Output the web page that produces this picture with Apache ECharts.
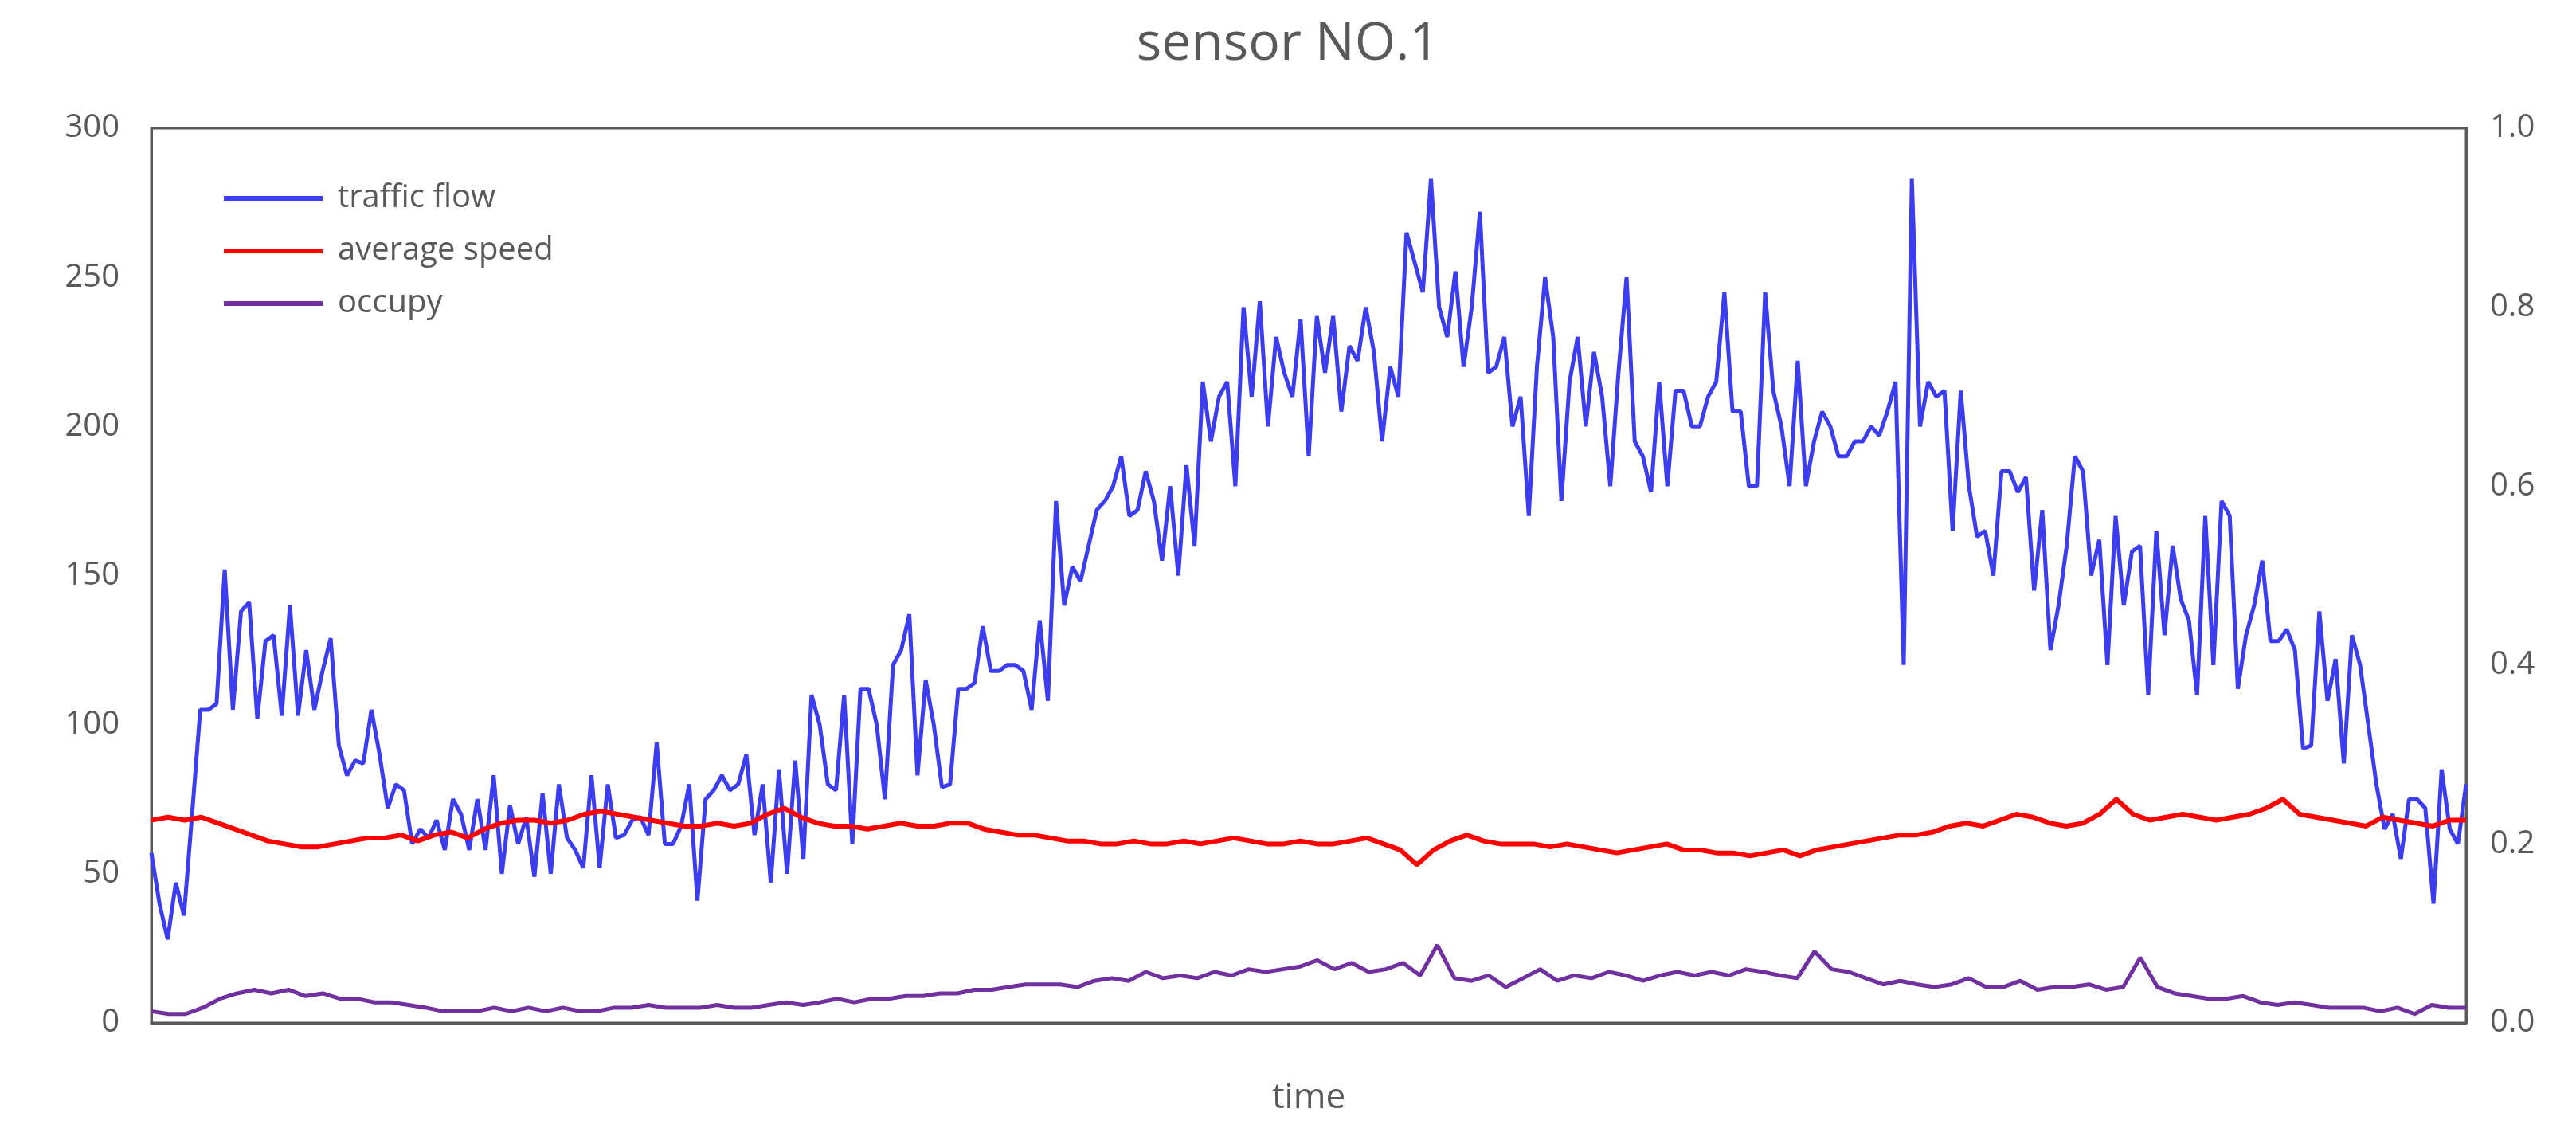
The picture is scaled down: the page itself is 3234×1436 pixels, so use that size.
<!DOCTYPE html>
<html><head><meta charset="utf-8">
<script src="https://cdn.jsdelivr.net/npm/echarts@6/dist/echarts.min.js"></script>
<style>html,body{margin:0;padding:0;background:#fff}#c{width:3234px;height:1436px}</style>
</head><body><div id="c"></div>
<script>
const leftTicks = [0, 50, 100, 150, 200, 250, 300];
const rightTicks = [0.0, 0.2, 0.4, 0.6, 0.8, 1.0];
const trafficFlow = [57,40,28,47,36,70,105,105,107,152,105,138,141,102,128,130,103,140,103,125,105,118,129,93,83,88,87,105,90,72,80,78,60,65,62,68,58,75,70,58,75,58,83,50,73,60,69,49,77,50,80,62,58,52,83,52,80,62,63,68,69,63,94,60,60,66,80,41,75,78,83,78,
80,90,63,80,47,85,50,88,55,110,100,80,78,110,60,112,112,100,75,120,125,137,83,115,100,79,80,112,112,114,133,118,118,120,120,118,105,135,108,175,140,153,148,160,172,175,180,190,170,172,185,175,155,180,150,187,160,215,195,210,215,180,
240,210,242,200,230,218,210,236,190,237,218,237,205,227,222,240,225,195,220,210,265,255,245,283,240,230,252,220,240,272,218,220,230,200,210,170,220,250,230,175,215,230,200,225,210,180,218,250,195,190,178,215,180,212,212,200,200,210,215,245,205,205,180,180,245,212,200,180,222,180,195,205,200,190,190,195,195,200,197,205,215,120,283,200,215,210,212,165,212,180,163,165,150,185,185,178,183,145,172,125,140,160,190,185,150,162,120,170,140,158,160,110,165,130,160,142,135,110,170,120,175,170,112,130,140,155,128,128,132,125,92,93,138,108,122,87,130,120,100,80,65,70,55,75,75,72,40,85,65,60,80];
const averageSpeed = [68,69,68,69,67,65,63,61,60,59,59,60,61,62,62,63,61,63,64,62,65,67,68,68,67,68,70,71,70,69,68,67,66,66,67,66,67,70,72,69,67,66,66,65,66,67,66,66,67,67,65,64,63,63,62,61,61,60,60,61,60,60,61,60,61,62,61,60,60,61,60,60,61,62,60,58,53,58,61,63,61,60,60,60,59,60,59,58,57,58,59,60,58,58,57,57,56,57,58,56,
58,59,60,61,62,63,63,64,66,67,66,68,70,69,67,66,67,70,75,70,68,69,70,69,68,69,70,72,75,70,69,68,67,66,69,68,67,66,68,68];
const occupy = [0.013,0.010,0.010,0.017,0.027,0.033,0.037,0.033,0.037,0.030,0.033,0.027,0.027,0.023,0.023,0.020,0.017,0.013,0.013,0.013,0.017,0.013,0.017,0.013,0.017,0.013,0.013,0.017,0.017,0.020,0.017,0.017,0.017,0.020,0.017,0.017,0.020,0.023,0.020,0.023,0.027,0.023,0.027,0.027,0.030,0.030,0.033,0.033,0.037,0.037,0.040,0.043,0.043,0.043,0.040,0.047,0.050,0.047,0.057,0.050,0.053,0.050,0.057,0.053,0.060,0.057,0.060,0.063,0.070,0.060,0.067,0.057,0.060,0.067,0.053,0.087,0.050,0.047,0.053,0.040,0.050,0.060,0.047,0.053,0.050,0.057,0.053,0.047,0.053,0.057,0.053,0.057,0.053,0.060,0.057,0.053,0.050,0.080,0.060,0.057,0.050,0.043,0.047,0.043,0.040,0.043,0.050,0.040,0.040,0.047,0.037,0.040,0.040,0.043,0.037,0.040,0.073,0.040,0.033,0.030,0.027,0.027,0.030,0.023,0.020,0.023,0.020,0.017,0.017,0.017,0.013,0.017,0.010,0.020,0.017,0.017];

const toXY = arr => arr.map((v, i) => [i / (arr.length - 1), v]);
const txt = '#595959', font = 'Open Sans';
const chart = echarts.init(document.getElementById('c'));
chart.setOption({
  animation: false,
  title: { text: 'sensor NO.1', left: 'center', top: 18, textStyle: { fontSize: 66, fontWeight: 'normal', color: txt, fontFamily: font } },
  legend: {
    orient: 'vertical', left: 276, top: 222, itemWidth: 124, itemHeight: 6, itemGap: 22, icon: 'rect',
    textStyle: { fontSize: 40, lineHeight: 44, color: txt, fontFamily: font, padding: [0, 0, 0, 14] },
    data: ['traffic flow', 'average speed', 'occupy']
  },
  grid: { left: 190, right: 138, top: 161, bottom: 152, show: true, borderColor: '#595959', borderWidth: 3 },
  xAxis: {
    type: 'value', min: 0, max: 1, name: 'time', nameLocation: 'middle', nameGap: 72,
    nameTextStyle: { fontSize: 44, color: txt, fontFamily: font },
    axisLabel: { show: false }, axisTick: { show: false }, splitLine: { show: false },
    axisLine: { lineStyle: { color: '#595959', width: 3 } }
  },
  yAxis: [
    { type: 'value', min: 0, max: 300, interval: 50, splitLine: { show: false }, axisTick: { show: false },
      axisLine: { show: true, lineStyle: { color: '#595959', width: 3 } },
      axisLabel: { fontSize: 40, color: txt, fontFamily: font, margin: 40 } },
    { type: 'value', min: 0, max: 1, interval: 0.2, splitLine: { show: false }, axisTick: { show: false },
      axisLine: { show: true, lineStyle: { color: '#595959', width: 3 } },
      axisLabel: { fontSize: 40, color: txt, fontFamily: font, margin: 30, formatter: v => v.toFixed(1) } }
  ],
  series: [
    { name: 'traffic flow', type: 'line', symbol: 'none', data: toXY(trafficFlow), lineStyle: { color: '#3c3cf0', width: 5 }, itemStyle: { color: '#3c3cf0' }, z: 2 },
    { name: 'average speed', type: 'line', symbol: 'none', data: toXY(averageSpeed), lineStyle: { color: '#ff0000', width: 6 }, itemStyle: { color: '#ff0000' }, z: 3 },
    { name: 'occupy', type: 'line', symbol: 'none', yAxisIndex: 1, data: toXY(occupy), lineStyle: { color: '#7030a0', width: 5 }, itemStyle: { color: '#7030a0' }, z: 3 }
  ]
});
</script></body></html>
